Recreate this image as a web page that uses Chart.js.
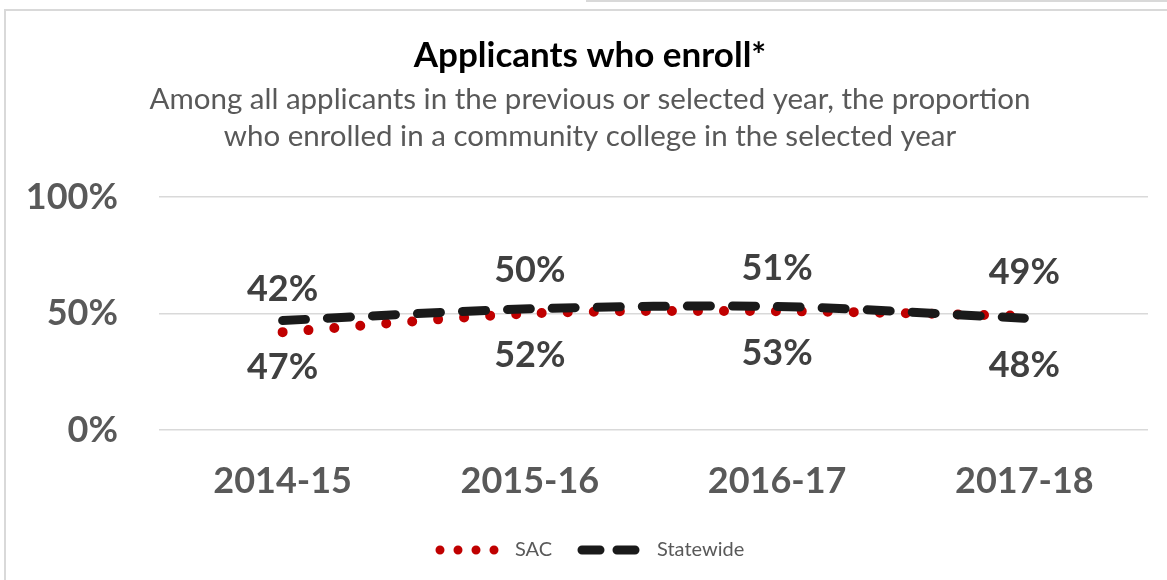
<!DOCTYPE html>
<html>
<head>
<meta charset="utf-8">
<script src="https://cdn.jsdelivr.net/npm/chart.js@4"></script>
<style>
  html, body { margin: 0; padding: 0; background: #fff; overflow: hidden; }
  #frame { position: absolute; left: 4px; top: 9px; width: 1300px; height: 700px; border: 2px solid #d9d9d9; }
  #topStrip { position: absolute; left: 586px; top: 0; width: 700px; height: 2px; background: #d9d9d9; }
  #wrap { position: absolute; left: 0; top: 0; width: 1167px; height: 580px; }
</style>
</head>
<body>
<div id="topStrip"></div>
<div id="frame"></div>
<div id="wrap"><canvas id="myChart"></canvas></div>
<script>
// data
const categories = ["2014-15", "2015-16", "2016-17", "2017-18"];
const sacValues = [42, 50, 51, 49];
const statewideValues = [47, 52, 53, 48];
const yTickValues = [0, 50, 100];
const titleText = "Applicants who enroll*";
const subtitleLines = [
  "Among all applicants in the previous or selected year, the proportion",
  "who enrolled in a community college in the selected year",
];

const FONT = "Lato, 'Open Sans', sans-serif";
const GRAY = "#595959";

// title + subtitle drawn on top area
const headerPlugin = {
  id: "headerText",
  afterDraw(chart) {
    const ctx = chart.ctx;
    ctx.save();
    ctx.textAlign = "center";
    ctx.textBaseline = "middle";
    ctx.fillStyle = "#000";
    ctx.font = "bold 35px " + FONT;
    ctx.fillText(titleText, 590, 56);
    ctx.fillStyle = GRAY;
    ctx.font = "29.5px " + FONT;
    ctx.fillText(subtitleLines[0], 590, 99);
    ctx.fillText(subtitleLines[1], 590, 136);
    ctx.restore();
  },
};

// value labels: SAC above, Statewide below
const valueLabelPlugin = {
  id: "valueLabels",
  afterDatasetsDraw(chart) {
    const ctx = chart.ctx;
    ctx.save();
    ctx.textAlign = "center";
    ctx.textBaseline = "middle";
    ctx.fillStyle = "#404040";
    ctx.font = "bold 36px " + FONT;
    chart.data.datasets.forEach((ds, i) => {
      const meta = chart.getDatasetMeta(i);
      const shift = ds.label === "SAC" ? -43 : 47;
      meta.data.forEach((pt, j) => {
        ctx.fillText(ds.data[j] + "%", pt.x, pt.y + shift);
      });
    });
    ctx.restore();
  },
};

// legend with line samples
const legendPlugin = {
  id: "lineLegend",
  afterDraw(chart) {
    const ctx = chart.ctx;
    const y = 550;
    const items = [
      { label: "SAC", color: "#c00000", dash: [0, 18], x: 440, len: 56, textX: 515 },
      { label: "Statewide", color: "#1a1a1a", dash: [18, 17], x: 582, len: 54, textX: 657 },
    ];
    ctx.save();
    items.forEach((it) => {
      ctx.beginPath();
      ctx.setLineDash(it.dash);
      ctx.lineCap = "round";
      ctx.lineWidth = 9;
      ctx.strokeStyle = it.color;
      ctx.moveTo(it.x, y);
      ctx.lineTo(it.x + it.len, y);
      ctx.stroke();
      ctx.setLineDash([]);
      ctx.fillStyle = GRAY;
      ctx.font = "20px " + FONT;
      ctx.textAlign = "left";
      ctx.textBaseline = "middle";
      ctx.fillText(it.label, it.textX, y);
    });
    ctx.restore();
  },
};

function drawChart() {
  const ctx = document.getElementById("myChart").getContext("2d");
  new Chart(ctx, {
    type: "line",
    data: {
      labels: categories,
      datasets: [
        {
          label: "SAC",
          data: sacValues,
          borderColor: "#c00000",
          borderWidth: 10,
          borderDash: [0, 26],
          borderCapStyle: "round",
          pointRadius: 0,
          tension: 0.3,
          order: 1,
        },
        {
          label: "Statewide",
          data: statewideValues,
          borderColor: "#1a1a1a",
          borderWidth: 9,
          borderDash: [23, 22],
          borderCapStyle: "round",
          pointRadius: 0,
          tension: 0.3,
          order: 0,
        },
      ],
    },
    options: {
      responsive: true,
      maintainAspectRatio: false,
      animation: false,
      layout: { padding: { top: 197, right: 19, bottom: 0, left: 0 } },
      scales: {
        x: {
          offset: true,
          grid: { display: false, drawTicks: false },
          border: { display: false },
          ticks: {
            padding: 30,
            color: GRAY,
            font: { family: FONT, size: 36, weight: "bold" },
          },
          afterFit(scale) {
            scale.height = 150;
          },
        },
        y: {
          min: 0,
          max: 100,
          grid: { color: "#d9d9d9", lineWidth: 1.5, drawTicks: false },
          border: { display: false },
          afterBuildTicks(scale) {
            scale.ticks = yTickValues.map((v) => ({ value: v }));
          },
          ticks: {
            padding: 41,
            color: GRAY,
            font: { family: FONT, size: 36, weight: "bold" },
            callback: (v) => v + "%",
          },
          afterFit(scale) {
            scale.width = 159;
          },
        },
      },
      plugins: {
        legend: { display: false },
        title: { display: false },
        tooltip: { enabled: false },
      },
    },
    plugins: [headerPlugin, valueLabelPlugin, legendPlugin],
  });
}
drawChart();
</script>
</body>
</html>
